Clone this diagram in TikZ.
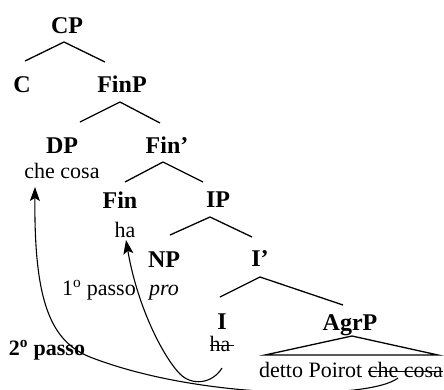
\documentclass[tikz,border=0pt]{standalone}
\usepackage{fontspec}
\setmainfont{Liberation Serif}
\usetikzlibrary{arrows.meta}
\newsavebox{\strikebox}
\newcommand{\strk}[1]{\sbox{\strikebox}{#1}\rlap{\rule[0.22em]{\wd\strikebox}{1.1pt}}\usebox{\strikebox}}

\begin{document}
\begin{tikzpicture}[x=1pt,y=-1pt,
    cat/.style={font=\fontsize{24}{26}\selectfont\bfseries,inner sep=0,anchor=base},
    word/.style={font=\fontsize{22}{24}\selectfont,inner sep=0,anchor=base},
    branch/.style={line width=1.3pt},
    passo/.style={line width=1.1pt,-{Stealth[length=14pt,width=10pt,inset=3pt]}}]
    \useasboundingbox (0,0) rectangle (444,389);
    % categories
    \node[cat] (CP) at (67,33) {CP};
    \node[cat] (C) at (22,92) {C};
    \node[cat] (FinP) at (122,92) {FinP};
    \node[cat] (DP) at (62,153) {DP};
    \node[cat] (Finbar) at (167,153) {Fin’};
    \node[cat] (Fin) at (120,208) {Fin};
    \node[cat] (IP) at (218,207) {IP};
    \node[cat] (NP) at (164,267) {NP};
    \node[cat] (Ibar) at (260,266) {I’};
    \node[cat] (I) at (222,329) {I};
    \node[cat] (AgrP) at (350,330) {AgrP};
    % words
    \node[word] (cheDP) at (62,178) {che cosa};
    \node[word] (haFin) at (125,237) {ha};
    \node[word] (pro) at (164,295) {\itshape pro};
    \node[word] (haI) at (222,351) {\strk{ha\kern4pt}};
    \node[word] (vp) at (351,377) {detto Poirot \strk{che cosa}};
    \node[word] (passo1) at (99,295) {1\textsuperscript{o} passo};
    \node[word,font=\fontsize{22}{24}\selectfont\bfseries] (passo2) at (47,355) {2\textsuperscript{o} passo};
    % branches
    \draw[branch] ([shift={(-3,9)}]CP.base) -- ([shift={(3,-31)}]C.base);
    \draw[branch] ([shift={(-3,9)}]CP.base) -- ([shift={(-17,-30)}]FinP.base);
    \draw[branch] ([shift={(-2,10)}]FinP.base) -- ([shift={(18,-31)}]DP.base);
    \draw[branch] ([shift={(-2,10)}]FinP.base) -- ([shift={(-7,-30)}]Finbar.base);
    \draw[branch] ([shift={(-4,9)}]Finbar.base) -- ([shift={(5,-26)}]Fin.base);
    \draw[branch] ([shift={(-4,9)}]Finbar.base) -- ([shift={(-15,-25)}]IP.base);
    \draw[branch] ([shift={(-8,10)}]IP.base) -- ([shift={(6,-32)}]NP.base);
    \draw[branch] ([shift={(-8,10)}]IP.base) -- ([shift={(-8,-29)}]Ibar.base);
    \draw[branch] ([shift={(0,11)}]Ibar.base) -- ([shift={(-2,-32)}]I.base);
    \draw[branch] ([shift={(0,11)}]Ibar.base) -- ([shift={(-7,-25)}]AgrP.base);
    \draw[branch] ([shift={(2,6)}]AgrP.base) -- ([shift={(-86,-22)}]vp.base)
        -- ([shift={(87,-22)}]vp.base) -- cycle;
    % movement
    \draw[passo] ([shift={(0,17)}]haI.base) .. controls (212,384) and (192,386) .. (180,374)
        .. controls (165,359) and (138,310) .. ([shift={(1,3)}]haFin.base);
    \draw[passo] ([shift={(47,1)}]vp.base) .. controls (370,400) and (200,400) .. (90,357)
        .. controls (50,341) and (34,300) .. ([shift={(-27,9)}]cheDP.base);
\end{tikzpicture}
\end{document}
